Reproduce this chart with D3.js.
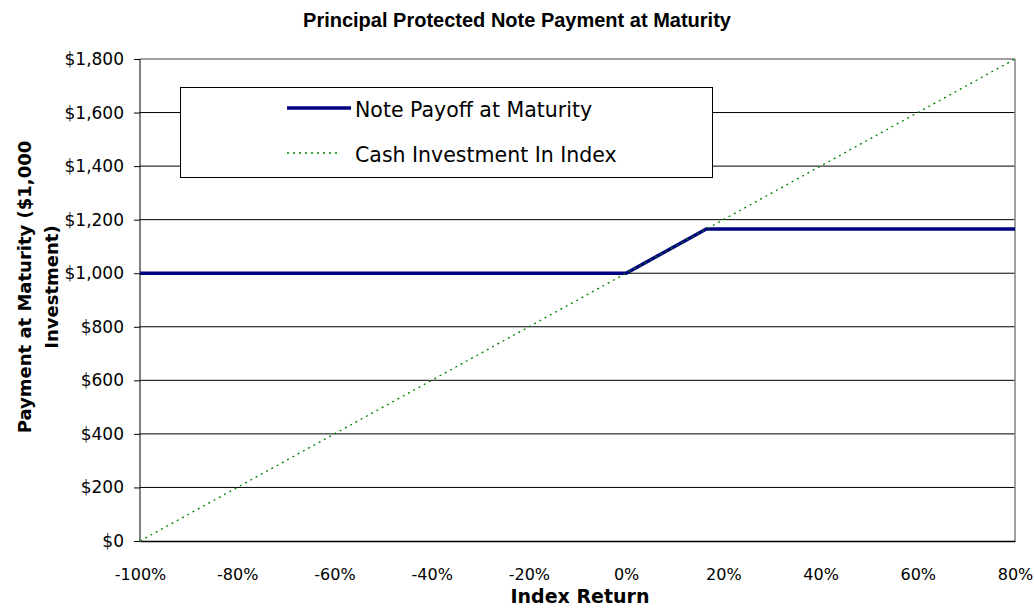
<!DOCTYPE html>
<html>
<head>
<meta charset="utf-8">
<script src="https://cdn.jsdelivr.net/npm/d3@7"></script>
<style>
  body { margin: 0; background: #fff; }
  svg { display: block; }
</style>
</head>
<body>
<svg id="chart" width="1034" height="609"></svg>
<script>
// data
const indexReturn = [-100, 0, 16.5, 80];
const notePayoff = [1000, 1000, 1165, 1165];
const cashReturn = [-100, 80];
const cashValue = [0, 1800];
const xTicks = [-100, -80, -60, -40, -20, 0, 20, 40, 60, 80];
const yTicks = [0, 200, 400, 600, 800, 1000, 1200, 1400, 1600, 1800];
const seriesNames = ["Note Payoff at Maturity", "Cash Investment In Index"];

const m = { left: 140, top: 59, right: 1015, bottom: 541 };
const tickFont = "'DejaVu Sans', sans-serif";

const svg = d3.select("#chart");

const x = d3.scaleLinear().domain([-100, 80]).range([m.left, m.right]);
const y = d3.scaleLinear().domain([0, 1800]).range([m.bottom, m.top]);

// title
svg.append("text")
  .attr("x", 517).attr("y", 27)
  .attr("text-anchor", "middle")
  .attr("font-family", "'Liberation Sans', Arial, sans-serif")
  .attr("font-weight", "bold")
  .attr("font-size", 20)
  .text("Principal Protected Note Payment at Maturity");

// gridlines
svg.append("g")
  .selectAll("line")
  .data(yTicks.slice(1))
  .join("line")
  .attr("x1", m.left).attr("x2", m.right)
  .attr("y1", d => y(d)).attr("y2", d => y(d))
  .attr("stroke", d => d === 1800 ? "#808080" : "#000")
  .attr("stroke-width", d => d === 1800 ? 1.5 : 1);

// right border
svg.append("line")
  .attr("x1", m.right).attr("x2", m.right)
  .attr("y1", m.top).attr("y2", m.bottom)
  .attr("stroke", "#808080").attr("stroke-width", 1.5);

// y axis
const yAxis = svg.append("g")
  .attr("transform", `translate(${m.left},0)`)
  .call(d3.axisLeft(y).tickValues(yTicks).tickSize(6).tickPadding(10)
    .tickFormat(d => "$" + d3.format(",")(d)));
yAxis.select(".domain").attr("stroke", "#000").attr("d", `M0,${m.top}V${m.bottom}`);
yAxis.selectAll("text").attr("font-family", tickFont).attr("font-size", 17).attr("fill", "#000");

// x axis
const xAxis = svg.append("g")
  .attr("transform", `translate(0,${m.bottom})`)
  .call(d3.axisBottom(x).tickValues(xTicks).tickSize(0).tickPadding(28)
    .tickFormat(d => d + "%"));
xAxis.select(".domain").attr("stroke", "#000").attr("stroke-width", 1.5);
xAxis.selectAll("text").attr("font-family", tickFont).attr("font-size", 16).attr("fill", "#000");

// axis titles
svg.append("text")
  .attr("x", 580).attr("y", 603)
  .attr("text-anchor", "middle")
  .attr("font-family", tickFont)
  .attr("font-weight", "bold")
  .attr("font-size", 19)
  .text("Index Return");

const yt = svg.append("text")
  .attr("transform", "translate(31,287) rotate(-90)")
  .attr("text-anchor", "middle")
  .attr("font-family", tickFont)
  .attr("font-weight", "bold")
  .attr("font-size", 18)
  .attr("fill", "#000");
yt.append("tspan").attr("x", 0).attr("y", 0).text("Payment at Maturity ($1,000");
yt.append("tspan").attr("x", 0).attr("y", 27).text("Investment)");

// series
const cashPts = cashReturn.map((d, i) => [d, cashValue[i]]);
const notePts = indexReturn.map((d, i) => [d, notePayoff[i]]);
const line = d3.line().x(d => x(d[0])).y(d => y(d[1]));

svg.append("path")
  .attr("d", line(notePts))
  .attr("fill", "none")
  .attr("stroke", "#000080")
  .attr("stroke-width", 3.5);

svg.append("path")
  .attr("d", line(cashPts))
  .attr("fill", "none")
  .attr("stroke", "#008000")
  .attr("stroke-width", 1.3)
  .attr("stroke-dasharray", "2,4");

// legend
const lg = svg.append("g");
lg.append("rect")
  .attr("x", 180.5).attr("y", 87.5).attr("width", 532).attr("height", 90)
  .attr("fill", "#fff").attr("stroke", "#000");
const ls = [
  { stroke: "#000080", w: 3.5, dash: null, x2: 351 },
  { stroke: "#008000", w: 1.5, dash: "2,4", x2: 340 }
];
seriesNames.forEach((name, i) => {
  const yy = 108 + i * 45;
  lg.append("line")
    .attr("x1", 287).attr("x2", ls[i].x2).attr("y1", yy).attr("y2", yy)
    .attr("stroke", ls[i].stroke).attr("stroke-width", ls[i].w)
    .attr("stroke-dasharray", ls[i].dash);
  lg.append("text")
    .attr("x", 355).attr("y", yy + 9)
    .attr("font-family", tickFont)
    .attr("font-size", 20.5)
    .attr("fill", "#000")
    .text(name);
});
</script>
</body>
</html>
